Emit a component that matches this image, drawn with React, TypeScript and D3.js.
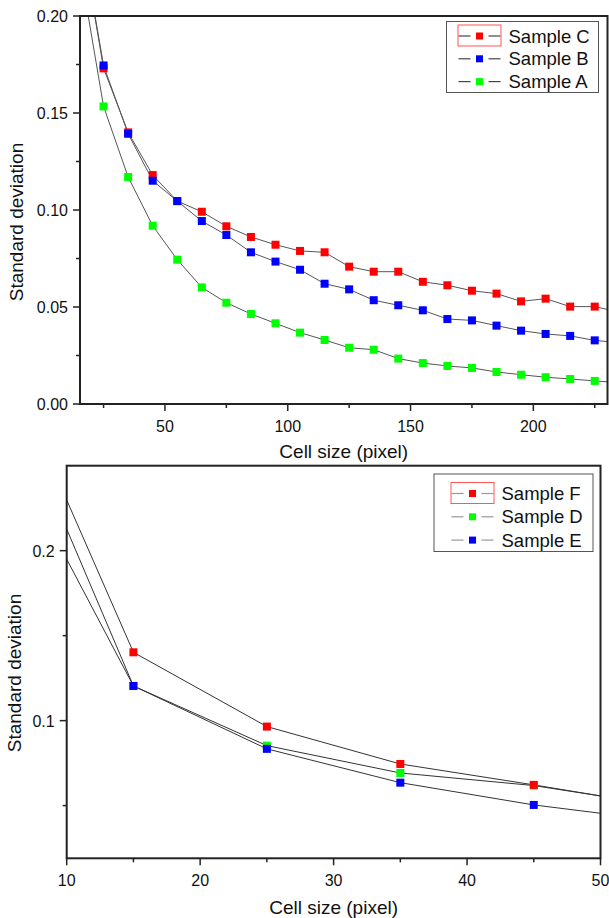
import React, { useEffect, useRef } from "react";
import * as d3 from "d3";

// top panel data (points outside the frame are clipped like the original)
const topCellSizes = [15, 25, 35, 45, 55, 65, 75, 85, 95, 105, 115, 125, 135, 145, 155, 165, 175, 185, 195, 205, 215, 225, 235];
const sampleC = [0.248, 0.173, 0.140, 0.118, 0.1046, 0.0991, 0.0916, 0.0861, 0.0821, 0.0789, 0.0782, 0.0708, 0.0682, 0.0682, 0.063, 0.0612, 0.0584, 0.0569, 0.0529, 0.0543, 0.0502, 0.0502, 0.0474];
const sampleB = [0.248, 0.1745, 0.1393, 0.1151, 0.1046, 0.0943, 0.0871, 0.0782, 0.0734, 0.0692, 0.062, 0.0591, 0.0535, 0.0509, 0.0483, 0.0438, 0.0431, 0.0404, 0.0378, 0.0361, 0.0351, 0.0328, 0.0316];
const sampleA = [0.228, 0.1534, 0.117, 0.0919, 0.0744, 0.0601, 0.0522, 0.0464, 0.0416, 0.0368, 0.033, 0.029, 0.028, 0.0234, 0.0211, 0.0196, 0.0186, 0.0165, 0.0151, 0.0138, 0.0129, 0.0119, 0.011];
const topMajorX = [50, 100, 150, 200];
const topMinorX = [25, 75, 125, 175, 225];
const topMajorY = [0, 0.05, 0.1, 0.15, 0.2];
const topMinorY = [0.025, 0.075, 0.125, 0.175];

// bottom panel data
const bottomCellSizes = [5, 15, 25, 35, 45, 55];
const sampleF = [0.3194, 0.1402, 0.0965, 0.0745, 0.0622, 0.0492];
const sampleD = [0.305, 0.1204, 0.0853, 0.0692, 0.0618, 0.0496];
const sampleE = [0.2696, 0.1204, 0.0834, 0.0635, 0.0504, 0.0406];
const bottomMajorX = [10, 20, 30, 40, 50];
const bottomMinorX = [15, 25, 35, 45];
const bottomMajorY = [0.1, 0.2];
const bottomMinorY = [0.05, 0.15];

const FONT = "'Liberation Sans', Arial, sans-serif";

type Series = { name: string; color: string; values: number[] };

const drawPanel = (svg: any, opts: any) => {
  const { id, xDomain, yDomain, left, right, top, bottom, xs, series, drawOrder,
    majorX, minorX, majorY, minorY, yFmt, lineColor, yTitleX, yTitleY, xTitleY, legend } = opts;

  const x = d3.scaleLinear().domain(xDomain).range([left, right]);
  const y = d3.scaleLinear().domain(yDomain).range([bottom, top]);

  svg.append("clipPath").attr("id", id)
    .append("rect").attr("x", left).attr("y", top)
    .attr("width", right - left).attr("height", bottom - top);

  const plot = svg.append("g").attr("clip-path", `url(#${id})`);
  const line = d3.line<number>().x((d, i) => x(xs[i])).y((d) => y(d));

  drawOrder.forEach((k: number) => {
    const s: Series = series[k];
    plot.append("path").attr("d", line(s.values)).attr("fill", "none")
      .attr("stroke", lineColor).attr("stroke-width", 1);
  });
  drawOrder.forEach((k: number) => {
    const s: Series = series[k];
    plot.selectAll(null).data(s.values).join("rect")
      .attr("x", (d: number, i: number) => x(xs[i]) - 4)
      .attr("y", (d: number) => y(d) - 4)
      .attr("width", 8).attr("height", 8)
      .attr("fill", s.color);
  });

  // frame
  svg.append("rect").attr("x", left).attr("y", top)
    .attr("width", right - left).attr("height", bottom - top)
    .attr("fill", "none").attr("stroke", "#222").attr("stroke-width", 2);

  // ticks
  const tk = svg.append("g").attr("stroke", "#222").attr("stroke-width", 1.5);
  majorX.forEach((v: number) => tk.append("line").attr("x1", x(v)).attr("x2", x(v)).attr("y1", bottom).attr("y2", bottom + 7));
  minorX.forEach((v: number) => tk.append("line").attr("x1", x(v)).attr("x2", x(v)).attr("y1", bottom).attr("y2", bottom + 4));
  majorY.forEach((v: number) => tk.append("line").attr("x1", left - 7).attr("x2", left).attr("y1", y(v)).attr("y2", y(v)));
  minorY.forEach((v: number) => tk.append("line").attr("x1", left - 4).attr("x2", left).attr("y1", y(v)).attr("y2", y(v)));

  const txt = svg.append("g").attr("font-family", FONT).attr("fill", "#111");
  majorX.forEach((v: number) => txt.append("text").attr("x", x(v)).attr("y", bottom + 28)
    .attr("text-anchor", "middle").attr("font-size", 16).text(v));
  majorY.forEach((v: number) => txt.append("text").attr("x", left - 12).attr("y", y(v) + 6)
    .attr("text-anchor", "end").attr("font-size", 16).text(d3.format(yFmt)(v)));

  txt.append("text").attr("x", (left + right) / 2).attr("y", xTitleY)
    .attr("text-anchor", "middle").attr("font-size", 19).text("Cell size (pixel)");
  txt.append("text").attr("transform", `translate(${yTitleX},${yTitleY}) rotate(-90)`)
    .attr("text-anchor", "middle").attr("dominant-baseline", "central")
    .attr("font-size", 19).text("Standard deviation");

  // legend
  const lg = svg.append("g");
  lg.append("rect").attr("x", legend.x).attr("y", legend.y)
    .attr("width", legend.w).attr("height", legend.h)
    .attr("fill", "white").attr("stroke", "#555").attr("stroke-width", 1);
  legend.order.forEach((k: number, i: number) => {
    const s: Series = series[k];
    const cy = legend.y + legend.first + i * legend.step;
    const mx = legend.mx;
    lg.append("line").attr("x1", mx - 21).attr("x2", mx - 9).attr("y1", cy).attr("y2", cy)
      .attr("stroke", legend.lineColor).attr("stroke-width", 1.2);
    lg.append("line").attr("x1", mx + 9).attr("x2", mx + 21).attr("y1", cy).attr("y2", cy)
      .attr("stroke", legend.lineColor).attr("stroke-width", 1.2);
    lg.append("rect").attr("x", mx - 3.5).attr("y", cy - 3.5).attr("width", 7).attr("height", 7)
      .attr("fill", s.color);
    if (i === 0) {
      lg.append("rect").attr("x", mx - 21.5).attr("y", cy - 11).attr("width", 43).attr("height", 21)
        .attr("fill", "none").attr("stroke", "#f55").attr("stroke-width", 1);
    }
    lg.append("text").attr("x", mx + 29).attr("y", cy + 6.5)
      .attr("font-family", FONT).attr("font-size", 18.5).attr("fill", "#111").text(s.name);
  });
};

const App = () => {
  const chartRef = useRef<HTMLDivElement>(null);

  useEffect(() => {
    d3.select(chartRef.current).selectAll("*").remove();

    const svg = d3.select(chartRef.current).append("svg")
      .attr("width", 609).attr("height", 918)
      .style("position", "absolute").style("left", 0).style("top", 0)
      .style("background", "white");

    const topSeries: Series[] = [
      { name: "Sample C", color: "#ff0000", values: sampleC },
      { name: "Sample B", color: "#0000ff", values: sampleB },
      { name: "Sample A", color: "#00ff00", values: sampleA },
    ];
    drawPanel(svg, {
      id: "clipTop", xDomain: [15.4, 230.2], yDomain: [0, 0.2],
      left: 80, right: 607.5, top: 16, bottom: 404, xs: topCellSizes,
      series: topSeries, drawOrder: [2, 0, 1],
      majorX: topMajorX, minorX: topMinorX, majorY: topMajorY, minorY: topMinorY,
      yFmt: ".2f", lineColor: "#555", yTitleX: 16, yTitleY: 222, xTitleY: 458,
      legend: { x: 446.5, y: 21.5, w: 152, h: 71, first: 14.5, step: 22.8, mx: 479.5, order: [0, 1, 2], lineColor: "#444" },
    });

    const bottomSeries: Series[] = [
      { name: "Sample F", color: "#ff0000", values: sampleF },
      { name: "Sample D", color: "#00ff00", values: sampleD },
      { name: "Sample E", color: "#0000ff", values: sampleE },
    ];
    drawPanel(svg, {
      id: "clipBottom", xDomain: [10, 50], yDomain: [0.019, 0.25],
      left: 66.7, right: 600.5, top: 465.7, bottom: 858.3, xs: bottomCellSizes,
      series: bottomSeries, drawOrder: [1, 0, 2],
      majorX: bottomMajorX, minorX: bottomMinorX, majorY: bottomMajorY, minorY: bottomMinorY,
      yFmt: ".1f", lineColor: "#333", yTitleX: 14, yTitleY: 673, xTitleY: 914,
      legend: { x: 434, y: 474, w: 159, h: 77.5, first: 19.5, step: 23.3, mx: 472.5, order: [0, 1, 2], lineColor: "#999" },
    });
  }, []);

  return <div ref={chartRef}></div>;
};

export default App;
